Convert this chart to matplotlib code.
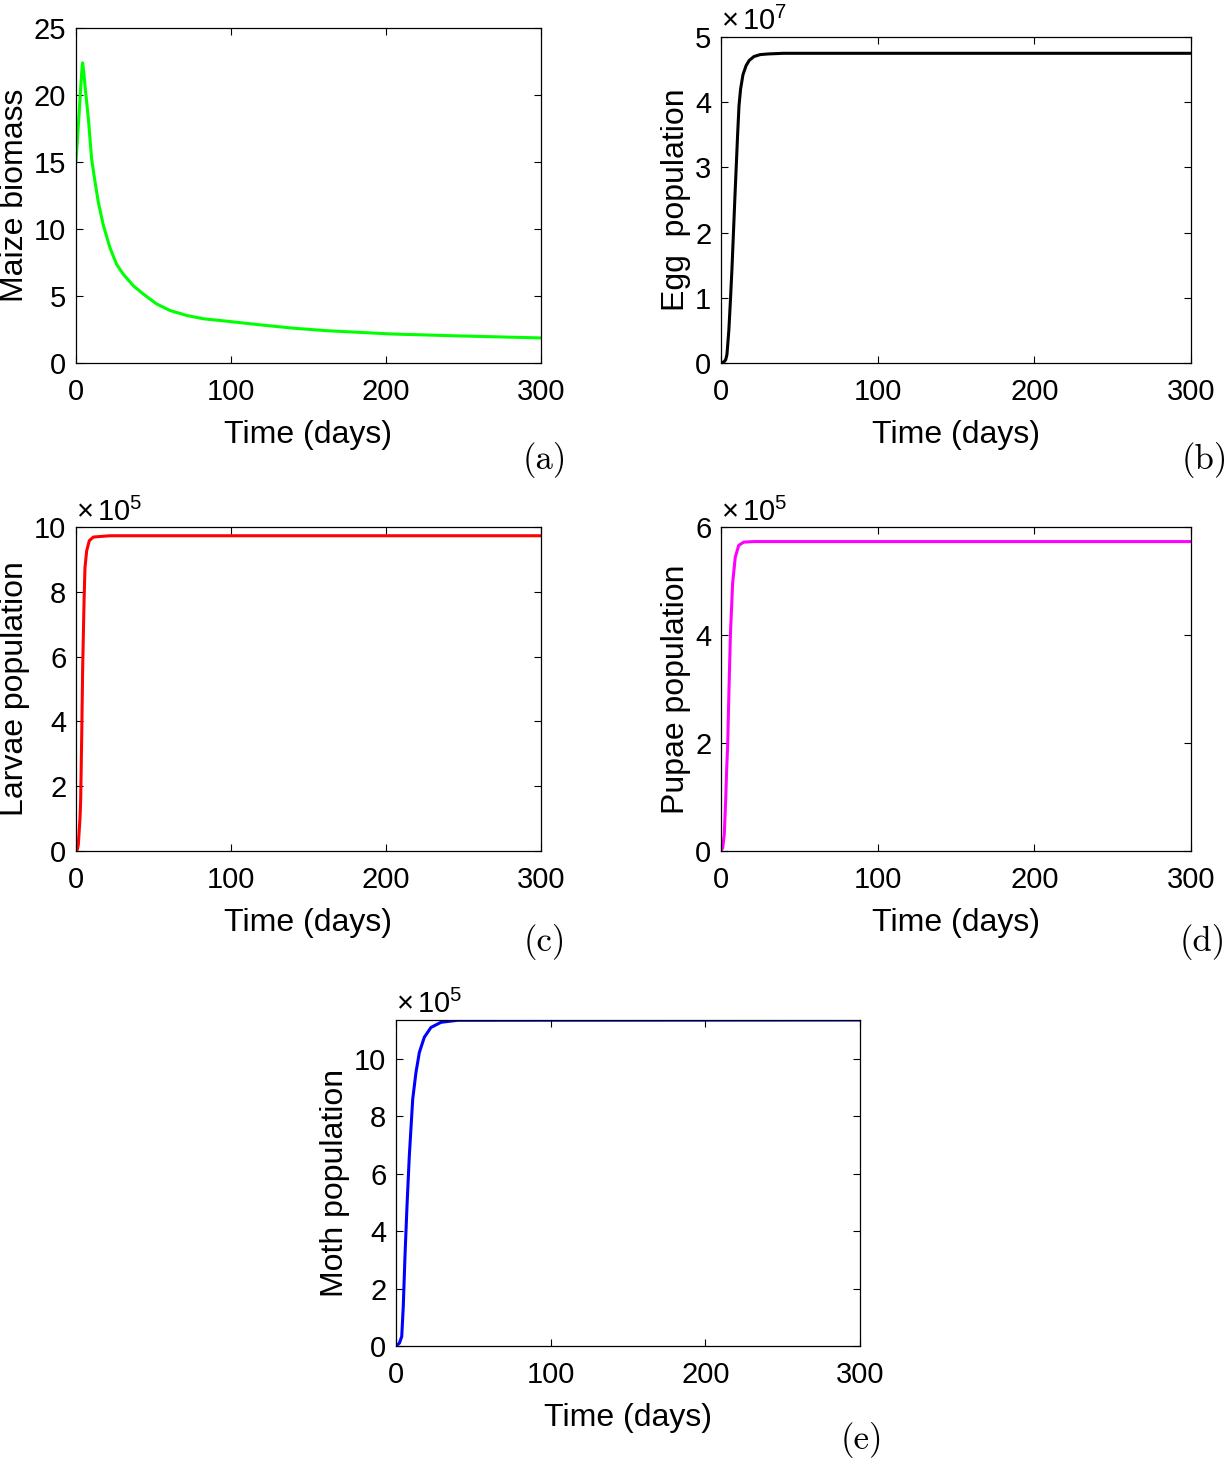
import numpy as np
import matplotlib.pyplot as plt
from matplotlib.ticker import FuncFormatter

plt.rcParams['font.family'] = ['Liberation Sans', 'DejaVu Sans']
plt.rcParams['mathtext.fontset'] = 'custom'
plt.rcParams['mathtext.rm'] = 'Liberation Sans'
plt.rcParams['mathtext.it'] = 'Liberation Sans:italic'
plt.rcParams['mathtext.bf'] = 'Liberation Sans:bold'

# values (time in days)
maize_t = [0, 1, 2, 3, 4, 4.3, 5, 5.8, 8, 10.1, 12.3, 14.4, 17.6, 21.9, 26.2,
           30.5, 37, 43.4, 52, 60.6, 71.4, 82.2, 97.2, 118.7, 140, 161.7,
           204.7, 247.7, 300]
maize_v = [15.1, 16.8, 18.6, 20.5, 22.2, 22.4, 21.7, 20.7, 18.2, 15.2, 13.5,
           12.0, 10.3, 8.6, 7.36, 6.63, 5.76, 5.15, 4.41, 3.92, 3.55, 3.3,
           3.12, 2.85, 2.6, 2.41, 2.16, 2.02, 1.87]

egg_t = [0, 2, 3, 3.8, 5, 6, 7, 7.9, 8.8, 9.7, 10.6, 11.5, 12.5, 14, 16, 18,
         21, 25, 30, 40, 300]
egg_v = [0, 0.02e7, 0.05e7, 0.13e7, 0.5e7, 0.95e7, 1.45e7, 1.97e7,
         2.5e7, 3.0e7, 3.5e7, 3.95e7, 4.2e7, 4.42e7, 4.56e7, 4.64e7,
         4.7e7, 4.73e7, 4.74e7, 4.75e7, 4.75e7]

larvae_t = [0, 0.9, 1.5, 2.6, 3.0, 3.7, 4.3, 5.2, 5.8, 6.9, 8.6, 11.2, 21.9, 300]
larvae_v = [0, 0.05e5, 0.2e5, 1.03e5, 1.54e5, 3.6e5, 5.66e5, 7.72e5, 8.75e5,
            9.27e5, 9.58e5, 9.69e5, 9.73e5, 9.73e5]

pupae_t = [0, 1.1, 2.1, 3.0, 3.6, 4.3, 5.1, 6.0, 7.4, 9.1, 11.3, 14.5, 20.9, 300]
pupae_v = [0, 0.06e5, 0.31e5, 0.95e5, 1.5e5, 2.0e5, 3.0e5, 4.0e5, 4.95e5,
           5.44e5, 5.66e5, 5.72e5, 5.73e5, 5.73e5]

moth_t = [0, 2.2, 3.7, 4.7, 5.8, 7.1, 8.6, 10.8, 12.9, 15.1, 18.3, 22.6, 29.1,
          39.9, 300]
moth_v = [0, 0.1e5, 0.33e5, 1.38e5, 3.12e5, 4.87e5, 6.62e5, 8.6e5, 9.53e5,
          10.23e5, 10.76e5, 11.1e5, 11.28e5, 11.35e5, 11.36e5]

W, H = 1228, 1463
fig = plt.figure(figsize=(W / 100, H / 100), dpi=100)


def box(l, t, r, b):
    return [l / W, 1 - b / H, (r - l) / W, (b - t) / H]


def setup(ax, ylabel, yticks, ylim, power=None):
    ax.set_xlim(0, 300)
    ax.set_xticks([0, 100, 200, 300])
    ax.set_ylim(*ylim)
    ax.set_yticks(yticks)
    ax.tick_params(direction='in', top=True, right=True, length=5,
                   width=0.8, labelsize=21)
    ax.tick_params(axis='x', pad=11)
    ax.tick_params(axis='y', pad=7)
    ax.set_xlabel('Time (days)', fontsize=23, labelpad=10)
    ax.set_ylabel(ylabel, fontsize=23, labelpad=3)
    for s in ax.spines.values():
        s.set_linewidth(0.9)
    if power is not None:
        scale = 10 ** power
        ax.yaxis.set_major_formatter(FuncFormatter(lambda v, _: '%g' % (v / scale)))
        ax.text(0.0, 1.02, r'$\times\,\mathrm{10^{%d}}$' % power,
                transform=ax.transAxes, fontsize=21, va='baseline', ha='left')


ax1 = fig.add_axes(box(76, 28, 541, 363))
ax1.plot(maize_t, maize_v, color=(0, 1, 0), lw=2.2)
setup(ax1, 'Maize biomass', [0, 5, 10, 15, 20, 25], (0, 25))

ax2 = fig.add_axes(box(721, 37, 1191, 363))
ax2.plot(egg_t, egg_v, color='black', lw=2.2)
setup(ax2, 'Egg  population', [0, 1e7, 2e7, 3e7, 4e7, 5e7], (0, 5e7), 7)

ax3 = fig.add_axes(box(76, 527, 541, 851))
ax3.plot(larvae_t, larvae_v, color='red', lw=2.2)
setup(ax3, 'Larvae population', [0, 2e5, 4e5, 6e5, 8e5, 10e5], (0, 10e5), 5)

ax4 = fig.add_axes(box(721, 527, 1191, 851))
ax4.plot(pupae_t, pupae_v, color='magenta', lw=2.2)
setup(ax4, 'Pupae population', [0, 2e5, 4e5, 6e5], (0, 6e5), 5)

ax5 = fig.add_axes(box(396, 1020, 860, 1346))
ax5.plot(moth_t, moth_v, color='blue', lw=2.2)
setup(ax5, 'Moth population', [0, 2e5, 4e5, 6e5, 8e5, 10e5], (0, max(moth_v)), 5)

# panel letters
for lab, x, y in [('(a)', 545, 460), ('(b)', 1205, 460), ('(c)', 545, 942),
                  ('(d)', 1203, 942), ('(e)', 862, 1440)]:
    fig.text(x / W, 1 - y / H, lab, family='cmr10', fontsize=25,
             ha='center', va='center')

fig.savefig('out.png', dpi=100)
